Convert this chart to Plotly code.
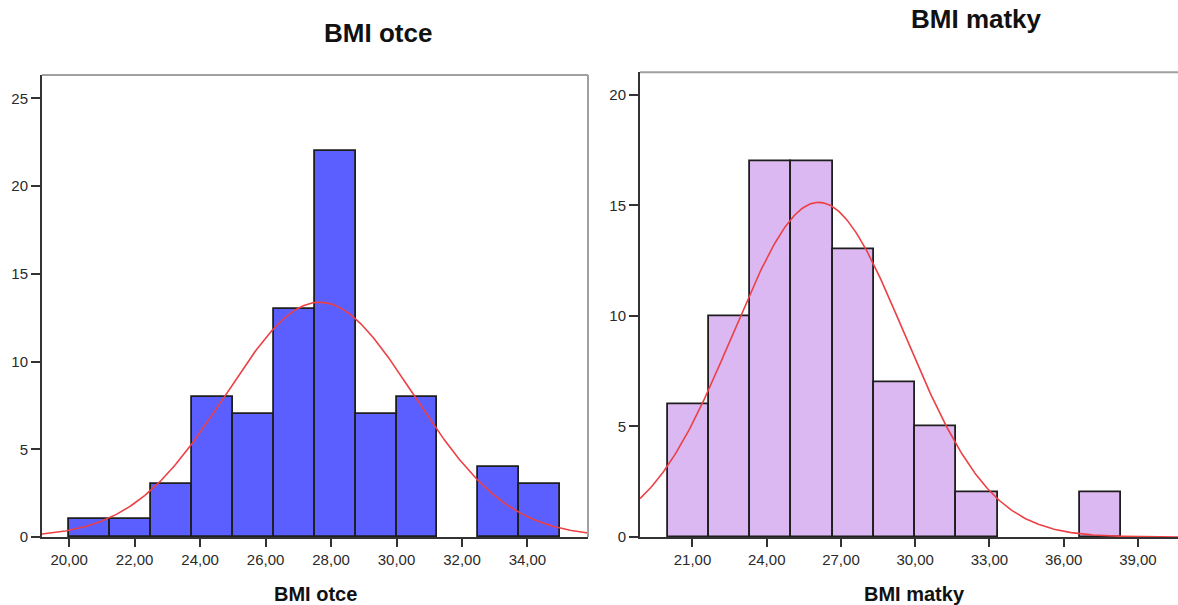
import numpy as np
import plotly.graph_objects as go

# ---------------- data ----------------
otce_bin_start = 20.0
otce_bin_width = 1.25
otce_counts = [1, 1, 3, 8, 7, 13, 22, 7, 8, 0, 4, 3]
otce_mean = 27.65
otce_sd = 2.87
otce_n = sum(otce_counts)
otce_ticks = [20, 22, 24, 26, 28, 30, 32, 34]
otce_ticklabels = ["20,00", "22,00", "24,00", "26,00", "28,00", "30,00", "32,00", "34,00"]

matky_bin_start = 20.0
matky_bin_width = 5.0 / 3.0
matky_counts = [6, 10, 17, 17, 13, 7, 5, 2, 0, 0, 2]
matky_mean = 26.1
matky_sd = 3.47
matky_n = sum(matky_counts)
matky_ticks = [21, 24, 27, 30, 33, 36, 39]
matky_ticklabels = ["21,00", "24,00", "27,00", "30,00", "33,00", "36,00", "39,00"]

otce_yticks = [0, 5, 10, 15, 20, 25]
matky_yticks = [0, 5, 10, 15, 20]

# ---------------- figure ----------------
W, H = 1178, 605
def px_x(p): return p / W
def px_y(p): return 1 - p / H

x1_range = [19.17, 35.85]
x2_range = [18.88, 40.62]

fig = go.Figure()

ocent = [otce_bin_start + (i + 0.5) * otce_bin_width for i in range(len(otce_counts))]
fig.add_trace(go.Bar(x=ocent, y=[c if c > 0 else None for c in otce_counts], width=otce_bin_width,
                     marker=dict(color="#5b5fff", line=dict(color="#1e1e1e", width=1.8)),
                     xaxis="x", yaxis="y", showlegend=False))
xs1 = np.linspace(x1_range[0], x1_range[1], 400)
ys1 = otce_n * otce_bin_width / (otce_sd * np.sqrt(2 * np.pi)) * np.exp(-0.5 * ((xs1 - otce_mean) / otce_sd) ** 2)
fig.add_trace(go.Scatter(x=xs1, y=ys1, mode="lines", line=dict(color="#ec4045", width=1.6),
                         xaxis="x", yaxis="y", showlegend=False))

mcent = [matky_bin_start + (i + 0.5) * matky_bin_width for i in range(len(matky_counts))]
fig.add_trace(go.Bar(x=mcent, y=[c if c > 0 else None for c in matky_counts], width=matky_bin_width,
                     marker=dict(color="#dcb8f2", line=dict(color="#1e1e1e", width=1.8)),
                     xaxis="x2", yaxis="y2", showlegend=False))
xs2 = np.linspace(x2_range[0], x2_range[1], 400)
ys2 = matky_n * matky_bin_width / (matky_sd * np.sqrt(2 * np.pi)) * np.exp(-0.5 * ((xs2 - matky_mean) / matky_sd) ** 2)
fig.add_trace(go.Scatter(x=xs2, y=ys2, mode="lines", line=dict(color="#ec4045", width=1.6),
                         xaxis="x2", yaxis="y2", showlegend=False))

tickfont = dict(family="Liberation Sans, Arial, sans-serif", size=15, color="#2a2a2a")
axis_common = dict(showgrid=False, zeroline=False, showline=True, linecolor="#333333", linewidth=2,
                   ticks="outside", tickcolor="#333333", tickwidth=2, tickfont=tickfont,
                   automargin=False)

bottom = px_y(537)
fig.update_layout(
    width=W, height=H,
    margin=dict(l=0, r=0, t=0, b=0, autoexpand=False),
    paper_bgcolor="white", plot_bgcolor="white",
    bargap=0,
    xaxis=dict(domain=[px_x(42), px_x(588)], range=x1_range, anchor="y",
               tickvals=otce_ticks, ticktext=otce_ticklabels, ticklen=8, **axis_common),
    yaxis=dict(domain=[bottom, px_y(75)], range=[0, 26.33], anchor="x",
               tickvals=otce_yticks, ticklen=9, **axis_common),
    xaxis2=dict(domain=[px_x(640), 1.0], range=x2_range, anchor="y2",
                tickvals=matky_ticks, ticktext=matky_ticklabels, ticklen=8, **axis_common),
    yaxis2=dict(domain=[bottom, px_y(72.3)], range=[0, 21.02], anchor="x2",
                tickvals=matky_yticks, ticklen=9, **axis_common),
)

# gray top / right frame
fig.add_shape(type="line", xref="x domain", yref="y domain", x0=0, x1=1, y0=1, y1=1,
              line=dict(color="#a0a0a0", width=2))
fig.add_shape(type="line", xref="x domain", yref="y domain", x0=1, x1=1, y0=0, y1=1,
              line=dict(color="#a0a0a0", width=2))
fig.add_shape(type="line", xref="x2 domain", yref="y2 domain", x0=0, x1=1, y0=1, y1=1,
              line=dict(color="#a0a0a0", width=2))

titlefont = dict(family="Liberation Sans, Arial, sans-serif", size=26, color="#111111")
labfont = dict(family="Liberation Sans, Arial, sans-serif", size=20, color="#111111")
fig.add_annotation(text="<b>BMI otce</b>", xref="paper", yref="paper", x=px_x(378), y=px_y(33),
                   showarrow=False, font=titlefont, xanchor="center", yanchor="middle")
fig.add_annotation(text="<b>BMI matky</b>", xref="paper", yref="paper", x=px_x(976), y=px_y(19),
                   showarrow=False, font=titlefont, xanchor="center", yanchor="middle")
fig.add_annotation(text="<b>BMI otce</b>", xref="paper", yref="paper", x=px_x(315), y=px_y(594),
                   showarrow=False, font=labfont, xanchor="center", yanchor="middle")
fig.add_annotation(text="<b>BMI matky</b>", xref="paper", yref="paper", x=px_x(915), y=px_y(594),
                   showarrow=False, font=labfont, xanchor="center", yanchor="middle")

fig.write_html("out.html")
